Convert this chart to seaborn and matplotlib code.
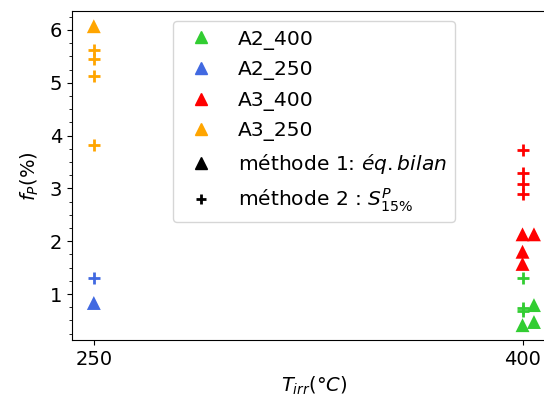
import matplotlib
matplotlib.use("Agg")
import matplotlib.pyplot as plt
from matplotlib.lines import Line2D
from matplotlib.ticker import MultipleLocator
import seaborn as sns
import pandas as pd

# data
samples = ['A2_400', 'A2_250', 'A3_400', 'A3_250']
colors = ['limegreen', 'royalblue', 'red', 'orange']

# methode 1 (eq. bilan) -> triangles
m1_sample = ['A3_250', 'A2_250', 'A3_400', 'A3_400', 'A3_400', 'A3_400', 'A2_400', 'A2_400', 'A2_400']
m1_T = [250, 250, 400, 404, 400, 400, 404, 404, 400]
m1_fp = [6.07, 0.83, 2.13, 2.13, 1.80, 1.57, 0.79, 0.47, 0.41]

# methode 2 (S15%) -> crosses
m2_sample = ['A3_250', 'A3_250', 'A3_250', 'A3_250', 'A2_250',
             'A3_400', 'A3_400', 'A3_400', 'A3_400', 'A2_400', 'A2_400', 'A2_400']
m2_T = [250, 250, 250, 250, 250, 400, 400, 400, 400, 400, 400, 400]
m2_fp = [5.62, 5.45, 5.13, 3.83, 1.30, 3.73, 3.30, 3.09, 2.89, 1.31, 0.74, 0.67]

df1 = pd.DataFrame({'T': m1_T, 'fp': m1_fp, 'sample': m1_sample})
df2 = pd.DataFrame({'T': m2_T, 'fp': m2_fp, 'sample': m2_sample})
palette = dict(zip(samples, colors))

plt.rcParams['font.size'] = 14
fig = plt.figure(figsize=(5.44, 4.03), dpi=100)
ax = fig.add_axes([0.132, 0.156, 0.89, 0.816])

sns.scatterplot(data=df1, x='T', y='fp', hue='sample', palette=palette, marker='^',
                s=100, edgecolor='none', legend=False, ax=ax)
sns.scatterplot(data=df2, x='T', y='fp', hue='sample', palette=palette, marker='+',
                s=75, linewidth=2, legend=False, ax=ax)

ax.set_xticks([250, 400])
ax.yaxis.set_major_locator(MultipleLocator(1))
ax.yaxis.set_minor_locator(MultipleLocator(0.25))
ax.set_xlabel(r'$T_{irr}(°C)$')
ax.set_ylabel(r'$f_P(\%)$', labelpad=6)

handles = [Line2D([], [], marker='^', color=c, linestyle='none', markersize=8) for c in colors]
handles.append(Line2D([], [], marker='^', color='black', linestyle='none', markersize=8))
handles.append(Line2D([], [], marker='+', color='black', linestyle='none', markersize=7, markeredgewidth=2))
labels = samples + [r'méthode 1: $éq.bilan$', r'méthode 2 : $S^P_{15\%}$']
ax.legend(handles, labels, loc='upper center', fontsize=14.6, labelspacing=0.52)

fig.savefig('out.png', dpi=100)
